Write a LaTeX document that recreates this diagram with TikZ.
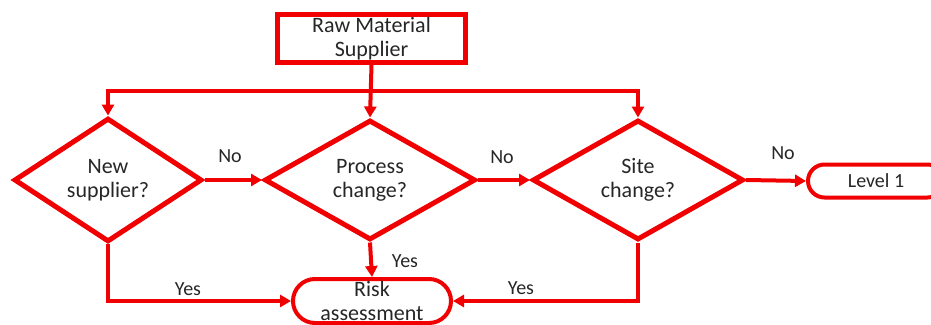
\documentclass[tikz,border=0pt]{standalone}
\usepackage{fontspec}
\setmainfont{Carlito}
\usetikzlibrary{shapes.geometric, shapes.misc, arrows.meta}
\definecolor{flowred}{RGB}{240,0,0}

\begin{document}
\begin{tikzpicture}[x=1pt, y=-1pt,
  every node/.style={font=\fontsize{22}{24}\selectfont, align=center, text=black!85},
  decision/.style={draw=flowred, line width=5pt, diamond, inner sep=0pt,
                   minimum height=120pt},
  terminal/.style={draw=flowred, line width=4pt, rounded rectangle, inner sep=0pt},
  flow/.style={draw=flowred, line width=4pt, -{Triangle[length=11pt, width=12pt]}},
  answer/.style={font=\fontsize{20}{22}\selectfont}]
\useasboundingbox (0,0) rectangle (931,324);
\node[draw=flowred, line width=5pt, minimum width=188pt, minimum height=48pt,
      inner sep=0pt] (raw) at (371.5,38.5) {Raw Material\\Supplier};
\node[decision, minimum width=188pt] (newsup) at (108,180) {New\\supplier?};
\node[decision, minimum width=211pt] (procchg) at (370,180) {Process\\change?};
\node[decision, minimum width=211pt] (sitechg) at (638,180) {Site\\change?};
\node[terminal, minimum width=136pt, minimum height=33pt,
      font=\fontsize{20}{22}\selectfont] (level) at (876,181) {Level 1};
\node[terminal, minimum width=158pt, minimum height=44pt] (risk) at (372,301)
  {Risk\\assessment};
\coordinate (bus) at (372,91);

\draw[flow] (raw.south) -- (procchg.north);
\draw[flow] (bus) -| (newsup.north);
\draw[flow] (bus) -| (sitechg.north);
\draw[flow] (newsup.east) -- (procchg.west);
\draw[flow] (procchg.east) -- (sitechg.west);
\draw[flow] (sitechg.east) -- (level.west);
\draw[flow] (newsup.south) |- (risk.west);
\draw[flow] (procchg.south) -- (risk.north);
\draw[flow] (sitechg.south) |- (risk.east);

\node[answer] (no1) at (230,156) {No};
\node[answer] (no2) at (502,157) {No};
\node[answer] (no3) at (783,153) {No};
\node[answer] (yes1) at (188,289) {Yes};
\node[answer] (yes2) at (405,261) {Yes};
\node[answer] (yes3) at (521,288) {Yes};
\end{tikzpicture}
\end{document}
